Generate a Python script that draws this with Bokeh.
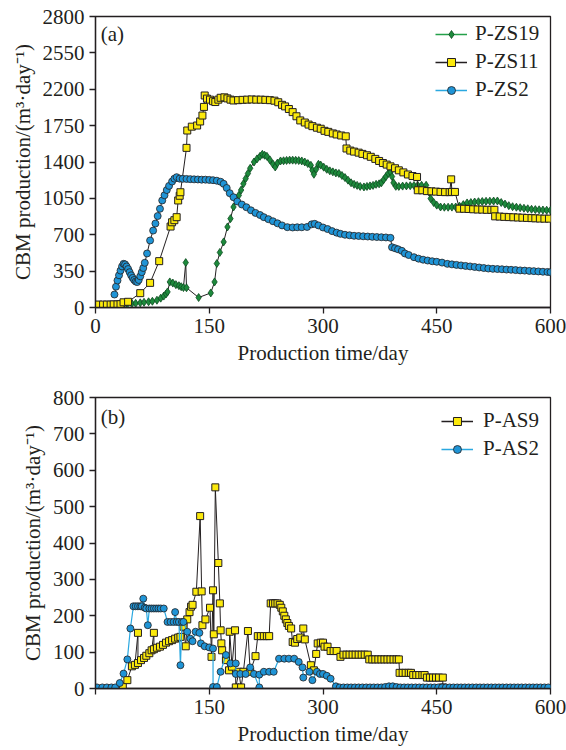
from bokeh.plotting import figure
from bokeh.models import Range1d, FixedTicker, Legend, LegendItem, Label
from bokeh.layouts import column
from bokeh.embed import file_html
from bokeh.resources import INLINE

# ---------------- panel (a) data ----------------
zs19_day = [0, 4, 8, 12, 16, 20, 25, 30, 34, 37, 42, 48, 53, 59, 64, 70, 75, 81, 86, 90, 93, 95, 98, 102, 106,
            110, 113, 116, 119, 120, 136, 152, 157, 160, 164, 169, 174, 178, 182, 186, 189, 192, 195, 198, 201,
            204, 209, 213, 217, 220, 223, 226, 230, 234, 237, 240, 244, 248, 252, 256, 260, 264, 268, 272, 276,
            280, 284, 286, 288, 291, 294, 297, 301, 305, 309, 313, 317, 321, 325, 329, 333, 337, 341, 345, 349,
            354, 358, 362, 366, 370, 374, 377, 380, 383, 386, 389, 391, 393, 396, 400, 405, 410, 415, 420, 425,
            430, 436, 440, 442, 446, 450, 455, 460, 465, 470, 475, 480, 485, 490, 495, 500, 505, 510, 515, 520,
            525, 530, 535, 540, 545, 550, 555, 560, 565, 570, 575, 580, 585, 590, 595, 600]
zs19_val = [5, 5, 6, 6, 8, 10, 12, 20, 25, 30, 35, 38, 40, 45, 50, 55, 60, 70, 90, 110, 130, 150, 246, 235, 220,
            210, 200, 192, 432, 190, 96, 140, 246, 423, 530, 631, 775, 855, 967, 1030, 1079, 1130, 1190, 1240, 1290,
            1340, 1400, 1430, 1455, 1474, 1465, 1455, 1420, 1380, 1352, 1390, 1410, 1412, 1415, 1418, 1418, 1416, 1414, 1410, 1400,
            1385, 1368, 1320, 1282, 1330, 1378, 1370, 1350, 1330, 1315, 1305, 1295, 1290, 1270, 1250, 1225, 1200, 1185, 1175, 1165,
            1160, 1165, 1170, 1175, 1185, 1190, 1200, 1230, 1260, 1290, 1304, 1260, 1200, 1166, 1165, 1168, 1170, 1172, 1174, 1176,
            1176, 1176, 1110, 1048, 1010, 985, 967, 965, 965, 966, 967, 975, 990, 1006, 1010, 1015, 1018, 1020, 1022, 1023,
            1024, 1025, 1010, 995, 980, 970, 965, 960, 955, 950, 945, 942, 940, 938, 936, 935]

zs11_day = [0, 4, 10, 15, 20, 24, 29, 33, 37, 43, 59, 72, 84, 99, 101, 104, 107, 109, 111, 112, 120, 121, 127, 134,
            138, 141, 143, 144, 147, 151, 155, 158, 162, 165, 170, 174, 178, 182, 188, 194, 200, 206, 212, 218, 224,
            230, 236, 241, 246, 250, 255, 260, 265, 270, 276, 281, 286, 292, 297, 302, 307, 313, 318, 324, 330, 331,
            336, 341, 347, 352, 358, 363, 369, 374, 379, 384, 389, 395, 400, 406, 412, 418, 424, 425, 431, 437, 443,
            449, 455, 461, 467, 469, 470, 474, 480, 486, 492, 498, 504, 510, 516, 522, 526, 527, 533, 539, 545, 551,
            557, 563, 569, 575, 580, 586, 592, 598]
zs11_val = [25, 28, 28, 28, 28, 30, 30, 32, 50, 55, 138, 237, 446, 779, 820, 840, 869, 1030, 1075, 1109, 1536, 1703, 1740, 1751,
            1790, 1847, 1930, 2040, 2010, 2000, 1985, 1977, 2000, 2018, 2022, 2012, 2000, 1992, 1995, 1998, 2000, 2002, 2000, 2000, 1998,
            1995, 1990, 1975, 1950, 1935, 1910, 1880, 1840, 1800, 1780, 1760, 1745, 1730, 1720, 1700, 1690, 1675, 1665, 1655, 1647, 1530,
            1510, 1500, 1490, 1478, 1465, 1450, 1430, 1410, 1390, 1375, 1358, 1340, 1320, 1300, 1280, 1265, 1256, 1128, 1128, 1120, 1118,
            1115, 1112, 1110, 1110, 1233, 1112, 1112, 951, 950, 948, 945, 943, 942, 940, 940, 940, 877, 875, 872, 870, 868,
            866, 864, 862, 860, 858, 856, 855, 855]

zs2_day = [25, 27, 29, 31, 33, 35, 37, 39, 41, 43, 45, 47, 49, 51, 53, 55, 57, 59, 61, 63, 65, 68, 72, 76, 79, 82,
           85, 88, 91, 94, 97, 101, 104, 107, 111, 115, 120, 125, 130, 135, 140, 145, 150, 155, 160, 165, 169, 173,
           177, 182, 187, 193, 199, 205, 211, 217, 222, 228, 234, 240, 246, 253, 260, 266, 272, 279, 285, 289, 294,
           300, 306, 312, 318, 323, 329, 335, 341, 347, 353, 359, 365, 371, 377, 383, 389, 391, 395, 399, 404, 408,
           413, 420, 426, 432, 438, 444, 450, 457, 464, 470, 476, 482, 488, 494, 500, 506, 512, 518, 524, 530, 536,
           542, 548, 554, 560, 566, 572, 578, 584, 590, 596, 600]
zs2_val = [125, 200, 260, 310, 355, 395, 420, 415, 395, 370, 340, 310, 285, 265, 250, 245, 265, 300, 340, 380, 430, 520, 645,
           740, 808, 880, 950, 1030, 1080, 1130, 1170, 1212, 1240, 1254, 1240, 1238, 1237, 1235, 1233, 1232, 1230, 1230, 1228,
           1225, 1220, 1210, 1190, 1150, 1100, 1061, 1020, 991, 965, 935, 910, 890, 869, 850, 830, 810, 790, 773, 770, 772,
           772, 775, 800, 805, 790, 770, 755, 735, 720, 709, 700, 695, 690, 688, 685, 683, 680, 678, 676, 674, 670, 580, 570,
           560, 545, 520, 505, 484, 470, 460, 452, 445, 440, 432, 420, 415, 410, 405, 400, 395, 390, 385, 380, 375, 372, 370,
           368, 365, 363, 360, 357, 355, 352, 350, 347, 344, 342, 340]

# ---------------- panel (b) data ----------------
as9_day = [36, 42, 48, 52, 56, 56, 60, 64, 67, 71, 74, 77, 77, 81, 85, 89, 93, 97, 101, 105, 109, 112, 116, 119, 121,
           124, 126, 128, 133, 138, 140, 141, 145, 151, 153, 155, 156, 158, 162, 164, 165, 166, 167, 172, 176, 177,
           180, 184, 185, 189, 192, 195, 201, 204, 211, 214, 218, 222, 226, 229, 231, 234, 237, 240, 243, 245, 247,
           249, 251, 253, 255, 258, 260, 263, 266, 270, 274, 276, 284, 288, 291, 293, 297, 300, 302, 306, 310, 314,
           318, 323, 327, 331, 335, 339, 343, 347, 351, 355, 359, 361, 365, 369, 373, 377, 381, 385, 389, 393, 397,
           400, 401, 405, 409, 413, 416, 419, 423, 427, 431, 434, 437, 441, 445, 449, 453, 458, 458]
as9_val = [6, 23, 61, 65, 153, 70, 78, 84, 90, 97, 105, 153, 108, 112, 115, 120, 126, 130, 133, 137, 140, 142, 170, 116, 190,
           210, 225, 230, 266, 474, 267, 174, 190, 222, 87, 270, 149, 553, 345, 234, 160, 124, 105, 78, 50, 156,
           60, 160, 3, 46, 3, 46, 158, 46, 89, 144, 144, 144, 144, 144, 234, 234, 234, 234, 230, 222, 212,
           200, 190, 180, 172, 165, 128, 126, 136, 140, 165, 135, 64, 50, 95, 124, 126, 126, 115, 115, 103, 103,
           103, 87, 93, 93, 93, 93, 93, 93, 93, 93, 93, 80, 80, 80, 80, 80, 80, 80, 80, 80, 80,
           80, 43, 43, 43, 43, 43, 37, 37, 37, 37, 37, 30, 30, 30, 30, 30, 30, 3]

as2_day = [2, 9, 15, 21, 26, 32, 37, 42, 46, 50, 53, 56, 59, 61, 63, 65, 67, 69, 71, 74, 77, 80, 83, 86, 90, 95, 99,
           103, 105, 107, 110, 112, 114, 116, 121, 125, 128, 132, 137, 139, 144, 150, 155, 155, 160, 165, 172, 178,
           185, 185, 191, 198, 204, 209, 216, 216, 222, 229, 235, 242, 249, 255, 262, 268, 273, 274, 282, 286, 292,
           296, 300, 305, 310, 317, 322, 327, 332, 337, 342, 347, 352, 357, 362, 367, 372, 377, 382, 387, 392, 397,
           402, 407, 412, 417, 422, 427, 432, 437, 442, 447, 452, 457, 462, 467, 472, 477, 482, 487, 492, 497, 502,
           507, 512, 517, 522, 527, 532, 537, 542, 547, 552, 557, 562, 567, 572, 577, 582, 587, 592, 597]
as2_val = [3, 3, 3, 3, 3, 15, 41, 80, 165, 226, 226, 226, 226, 226, 247, 222, 220, 174, 220, 220, 220, 220, 220, 220, 220, 183, 183,
           183, 210, 183, 183, 64, 183, 183, 156, 137, 130, 156, 153, 124, 116, 113, 110, 4, 4, 46, 92, 69,
           69, 40, 40, 40, 58, 40, 3, 38, 46, 46, 46, 82, 82, 82, 82, 73, 58, 30, 46, 23, 46,
           40, 40, 35, 27, 6, 3, 3, 3, 3, 3, 3, 3, 3, 3, 3, 3, 3, 4, 6, 6, 4,
           3, 3, 3, 3, 3, 3, 3, 3, 3, 3, 3, 3, 3, 3, 3, 3, 3, 3, 3, 3, 3,
           3, 3, 3, 3, 3, 3, 3, 3, 3, 3, 3, 3, 3, 3, 3, 3, 3, 3, 3, 3]

top_yticks = [0, 350, 700, 1050, 1400, 1750, 2100, 2450, 2800]
top_ylabels = {2100: "2200", 2450: "2550"}
x_ticks = [0, 150, 300, 450, 600]
bot_yticks = [0, 100, 200, 300, 400, 500, 600, 700, 800]

DARK = "#231f20"
YELLOW = "#fbe90c"
BLUE = "#1f94d6"
BLUE_LINE = "#2aa8e0"
GREEN = "#1d8a3c"
GREEN_LINE = "#24a04a"
FONT = "'Liberation Serif', 'Times New Roman', serif"
FS = "21px"
YLABEL = "CBM production/(m\u00b3\u00b7day\u207b\u00b9)"
NAN = float("nan")


def make_fig(ymax, yticks, min_top, min_bottom, height):
    p = figure(width=566, height=height, output_backend="svg", toolbar_location=None,
               x_range=Range1d(0, 600), y_range=Range1d(0, ymax),
               min_border_left=95, min_border_right=16, min_border_top=min_top,
               min_border_bottom=min_bottom)
    p.grid.visible = False
    p.outline_line_color = DARK
    p.outline_line_width = 1.3
    p.outline_line_alpha = 1
    p.background_fill_color = "white"
    p.border_fill_color = "white"
    for ax in (p.xaxis[0], p.yaxis[0]):
        ax.axis_line_color = DARK
        ax.axis_line_width = 1.3
        ax.major_tick_line_color = DARK
        ax.major_tick_line_width = 1.3
        ax.major_tick_out = 6
        ax.major_tick_in = 0
        ax.minor_tick_line_color = None
        ax.major_label_text_font = FONT
        ax.major_label_text_font_size = FS
        ax.major_label_text_color = DARK
        ax.axis_label_text_font = FONT
        ax.axis_label_text_font_size = FS
        ax.axis_label_text_font_style = "normal"
        ax.axis_label_text_color = DARK
        ax.major_label_standoff = 5
        ax.axis_label_standoff = 5
    p.xaxis.ticker = FixedTicker(ticks=x_ticks)
    p.yaxis.ticker = FixedTicker(ticks=yticks)
    p.xaxis.axis_label = "Production time/day"
    p.yaxis.axis_label = YLABEL
    return p


def legend(items, label_width, standoff, margin):
    return Legend(items=items, location="top_right", border_line_color=None, background_fill_alpha=0,
                  label_text_font=FONT, label_text_font_size=FS, label_text_color=DARK,
                  glyph_width=32, glyph_height=20, label_height=20, label_width=label_width,
                  spacing=3, label_standoff=standoff, padding=2, margin=margin)


# ---------------- panel (a) ----------------
p1 = make_fig(2800, top_yticks, 16, 68, 375)
p1.yaxis.major_label_overrides = top_ylabels

p1.line(zs19_day, zs19_val, line_color=DARK, line_width=1)
g_sc = p1.scatter(zs19_day, zs19_val, marker="diamond", size=8, fill_color=GREEN,
                  line_color="#0d4a1f", line_width=0.8)
p1.line(zs11_day, zs11_val, line_color=DARK, line_width=1)
y_sc = p1.scatter(zs11_day, zs11_val, marker="square", size=7, fill_color=YELLOW,
                  line_color=DARK, line_width=1)
p1.line(zs2_day, zs2_val, line_color=DARK, line_width=1)
b_sc = p1.scatter(zs2_day, zs2_val, marker="circle", size=7, fill_color=BLUE,
                  line_color=DARK, line_width=0.8)

lg_g = p1.line([NAN], [NAN], line_color=GREEN_LINE, line_width=1.5)
lg_y = p1.line([NAN], [NAN], line_color=DARK, line_width=1.5)
lg_b = p1.line([NAN], [NAN], line_color=BLUE_LINE, line_width=1.5)
p1.add_layout(legend([LegendItem(label="P-ZS19", renderers=[lg_g, g_sc]),
                      LegendItem(label="P-ZS11", renderers=[lg_y, y_sc]),
                      LegendItem(label="P-ZS2", renderers=[lg_b, b_sc])], 70, 8, 5))
p1.add_layout(Label(x=7, y=2627, text="(a)", text_font=FONT, text_font_size=FS,
                    text_color=DARK, text_baseline="middle"))

# ---------------- panel (b) ----------------
p2 = make_fig(800, bot_yticks, 22, 62, 375)
p2.xaxis.major_label_overrides = {0: ""}

p2.line(as9_day, as9_val, line_color=DARK, line_width=1)
y2_sc = p2.scatter(as9_day, as9_val, marker="square", size=7, fill_color=YELLOW,
                   line_color=DARK, line_width=1)
p2.line(as2_day, as2_val, line_color=BLUE_LINE, line_width=1.2)
b2_sc = p2.scatter(as2_day, as2_val, marker="circle", size=7, fill_color=BLUE,
                   line_color=DARK, line_width=0.8)

lg_y2 = p2.line([NAN], [NAN], line_color=DARK, line_width=1.5)
lg_b2 = p2.line([NAN], [NAN], line_color=BLUE_LINE, line_width=1.5)
p2.add_layout(legend([LegendItem(label="P-AS9", renderers=[lg_y2, y2_sc]),
                      LegendItem(label="P-AS2", renderers=[lg_b2, b2_sc])], 56, 10, 11))
p2.add_layout(Label(x=7, y=746, text="(b)", text_font=FONT, text_font_size=FS,
                    text_color=DARK, text_baseline="middle"))

layout = column(p1, p2, spacing=0)
open("out.html", "w").write(file_html(layout, INLINE))
